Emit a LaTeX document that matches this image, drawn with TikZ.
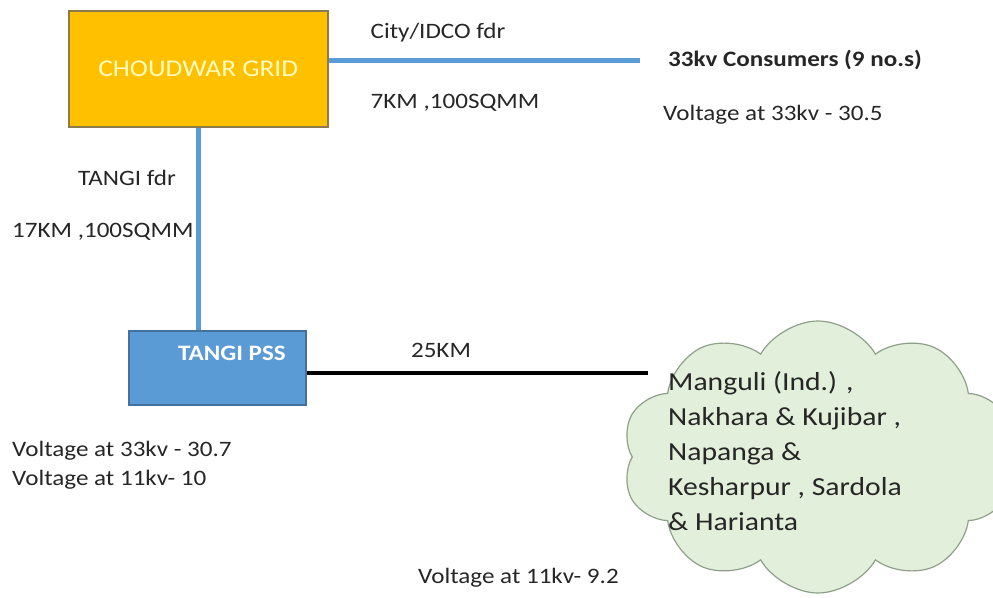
\documentclass[tikz,border=0pt]{standalone}
\usepackage{fontspec}
\setmainfont{Carlito}[FakeStretch=1.14]
\usetikzlibrary{shapes.symbols}
\definecolor{gridorange}{HTML}{FFC000}
\definecolor{gridedge}{HTML}{8C7A4A}
\definecolor{pssblue}{HTML}{5B9BD5}
\definecolor{pssedge}{HTML}{41719C}
\definecolor{cloudgreen}{HTML}{E2EFDA}
\definecolor{cloudedge}{HTML}{8FA08A}
\definecolor{lbltext}{HTML}{262626}
\begin{document}
\begin{tikzpicture}[x=1pt,y=-1pt,
    lbl/.style={text=lbltext, font=\fontsize{22}{26}\selectfont, inner sep=0pt},
    feeder/.style={draw=pssblue, line width=5pt}]
\useasboundingbox (0,0) rectangle (993,597);
% boxes
\node[draw=gridedge, line width=1.5pt, fill=gridorange, minimum width=259pt, minimum height=116pt,
      anchor=north west, text=yellow!25, font=\fontsize{24}{28}\selectfont] (grid) at (68,10) {CHOUDWAR GRID};
\node[draw=pssedge, line width=1.5pt, fill=pssblue, minimum width=177pt, minimum height=74pt,
      anchor=north west] (pss) at (128,330) {};
\node[text=white, font=\bfseries\fontsize{22}{26}\selectfont] (psslbl) at (232,353) {TANGI PSS};
% feeders
\coordinate (city) at (640,60);
\coordinate (load) at (648,373);
\draw[feeder] (grid.east |- city) -- (city);
\draw[feeder] (grid.south) -- (grid.south |- pss.north);
\draw[line width=4pt] (pss.east |- load) -- (load);
% cloud
\node[cloud, cloud puffs=10, cloud puff arc=120, cloud ignores aspect, draw=cloudedge, line width=1.2pt,
      fill=cloudgreen, minimum width=392pt, minimum height=272pt] (area) at (818,457) {};
\node[lbl, anchor=north west, align=left, font=\fontsize{26}{35}\selectfont] (places) at (668,371)
    {Manguli (Ind.) ,\\Nakhara \& Kujibar ,\\Napanga \&\\Kesharpur , Sardola\\\& Harianta};
% labels
\node[lbl] (citylbl) at (438,33) {City/IDCO fdr};
\node[lbl] (citylen) at (455,103) {7KM ,100SQMM};
\node[lbl, font=\bfseries\fontsize{22}{26}\selectfont, anchor=west] (cons) at (668,60) {33kv Consumers (9 no.s)};
\node[lbl, anchor=west] (consv) at (663,115) {Voltage at 33kv - 30.5};
\node[lbl, anchor=east] (tangilbl) at (176,178) {TANGI fdr};
\node[lbl, anchor=west] (tangilen) at (12,232) {17KM ,100SQMM};
\node[lbl] (loadlen) at (441,350) {25KM};
\node[lbl, anchor=north west, align=left, font=\fontsize{22}{29}\selectfont] (pssv) at (12,441)
    {Voltage at 33kv - 30.7\\Voltage at 11kv- 10};
\node[lbl, anchor=west] (areav) at (418,578) {Voltage at 11kv- 9.2};
\end{tikzpicture}
\end{document}
